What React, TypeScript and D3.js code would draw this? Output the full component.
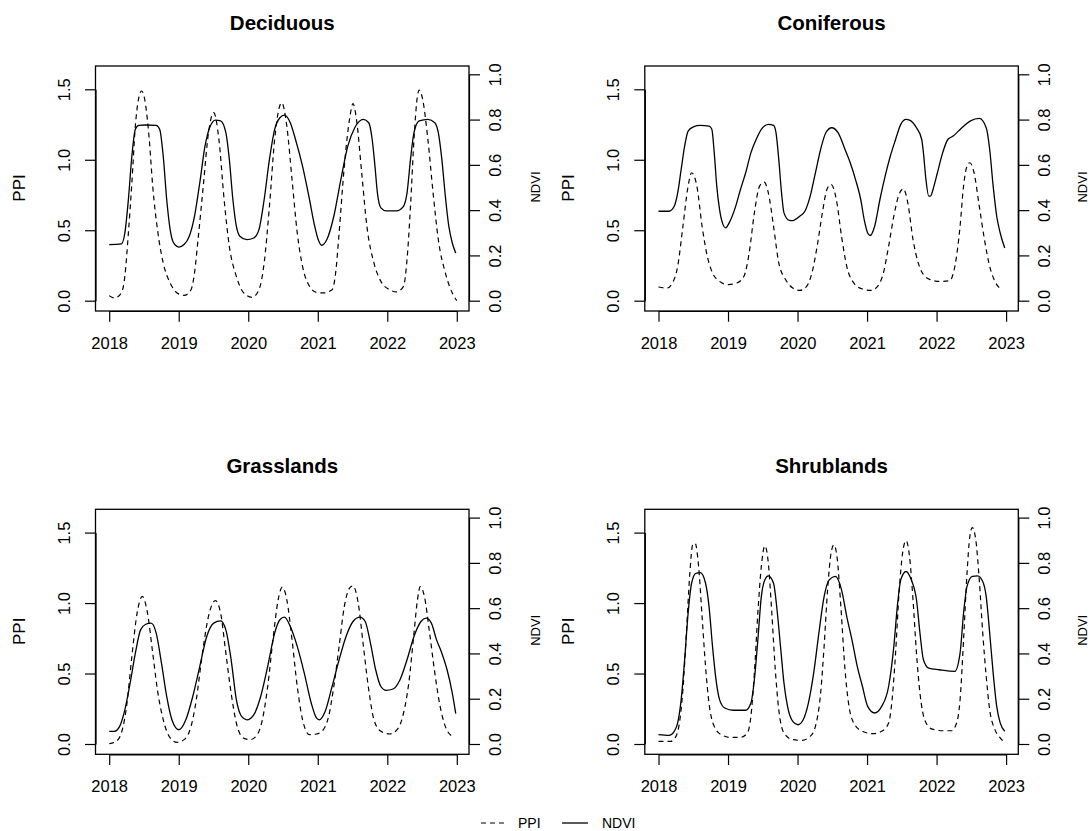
import React, { useEffect, useRef } from "react";
import * as d3 from "d3";

// seasonal PPI / NDVI curves, [decimal year, value]
const deciduousPPI: [number, number][] = [
  [2018.0, 0.036], [2018.075, 0.019], [2018.175, 0.055], [2018.225, 0.173], [2018.276, 0.481],
  [2018.326, 0.836], [2018.376, 1.239], [2018.426, 1.441], [2018.466, 1.488], [2018.526, 1.382],
  [2018.576, 1.145], [2018.626, 0.813], [2018.701, 0.481], [2018.777, 0.268], [2018.877, 0.126],
  [2018.977, 0.055], [2019.077, 0.038], [2019.177, 0.078], [2019.227, 0.197], [2019.278, 0.434],
  [2019.353, 0.813], [2019.428, 1.192], [2019.503, 1.334], [2019.578, 1.145], [2019.653, 0.718],
  [2019.728, 0.386], [2019.829, 0.173], [2019.929, 0.059], [2020.054, 0.024], [2020.154, 0.078],
  [2020.229, 0.268], [2020.305, 0.671], [2020.38, 1.145], [2020.43, 1.334], [2020.48, 1.405],
  [2020.555, 1.239], [2020.63, 0.86], [2020.705, 0.481], [2020.781, 0.244], [2020.881, 0.102],
  [2020.981, 0.059], [2021.081, 0.055], [2021.206, 0.078], [2021.257, 0.197], [2021.307, 0.481],
  [2021.382, 0.955], [2021.457, 1.287], [2021.507, 1.398], [2021.557, 1.287], [2021.632, 0.908],
  [2021.707, 0.528], [2021.808, 0.268], [2021.908, 0.137], [2022.033, 0.078], [2022.133, 0.062],
  [2022.233, 0.102], [2022.284, 0.291], [2022.334, 0.671], [2022.384, 1.145], [2022.434, 1.453],
  [2022.459, 1.495], [2022.509, 1.429], [2022.584, 1.145], [2022.659, 0.765], [2022.734, 0.434],
  [2022.835, 0.197], [2022.935, 0.055], [2023.0, 0.0],
];

const deciduousNDVI: [number, number][] = [
  [2018.0, 0.248], [2018.175, 0.251], [2018.225, 0.299], [2018.276, 0.447], [2018.326, 0.639],
  [2018.376, 0.757], [2018.426, 0.774], [2018.526, 0.776], [2018.676, 0.774], [2018.726, 0.757],
  [2018.777, 0.639], [2018.827, 0.447], [2018.877, 0.314], [2018.927, 0.255], [2019.002, 0.237],
  [2019.077, 0.248], [2019.152, 0.285], [2019.227, 0.373], [2019.303, 0.521], [2019.378, 0.683],
  [2019.453, 0.771], [2019.528, 0.798], [2019.603, 0.794], [2019.678, 0.742], [2019.728, 0.624],
  [2019.779, 0.447], [2019.829, 0.329], [2019.879, 0.285], [2019.979, 0.27], [2020.079, 0.277],
  [2020.154, 0.314], [2020.229, 0.447], [2020.305, 0.624], [2020.38, 0.757], [2020.455, 0.808],
  [2020.52, 0.82], [2020.605, 0.786], [2020.68, 0.712], [2020.781, 0.594], [2020.881, 0.447],
  [2020.956, 0.329], [2021.006, 0.27], [2021.056, 0.245], [2021.131, 0.27], [2021.231, 0.373],
  [2021.332, 0.535], [2021.432, 0.683], [2021.532, 0.764], [2021.657, 0.801], [2021.733, 0.786],
  [2021.783, 0.712], [2021.823, 0.594], [2021.858, 0.476], [2021.908, 0.41], [2021.983, 0.397],
  [2022.133, 0.397], [2022.233, 0.417], [2022.284, 0.476], [2022.334, 0.624], [2022.384, 0.742],
  [2022.459, 0.794], [2022.584, 0.801], [2022.684, 0.786], [2022.734, 0.742], [2022.785, 0.624],
  [2022.835, 0.462], [2022.885, 0.329], [2022.935, 0.255], [2022.985, 0.211],
];

const coniferousPPI: [number, number][] = [
  [2018.0, 0.097], [2018.125, 0.09], [2018.201, 0.126], [2018.276, 0.244], [2018.351, 0.528],
  [2018.426, 0.813], [2018.476, 0.908], [2018.552, 0.813], [2018.627, 0.528], [2018.702, 0.315],
  [2018.777, 0.197], [2018.878, 0.137], [2019.003, 0.114], [2019.128, 0.126], [2019.229, 0.173],
  [2019.304, 0.339], [2019.379, 0.623], [2019.454, 0.813], [2019.52, 0.841], [2019.58, 0.765],
  [2019.655, 0.528], [2019.73, 0.268], [2019.83, 0.149], [2019.931, 0.09], [2020.031, 0.073],
  [2020.131, 0.102], [2020.207, 0.197], [2020.282, 0.386], [2020.357, 0.623], [2020.422, 0.789],
  [2020.482, 0.825], [2020.558, 0.718], [2020.633, 0.457], [2020.708, 0.244], [2020.808, 0.126],
  [2020.934, 0.083], [2021.059, 0.073], [2021.159, 0.107], [2021.235, 0.197], [2021.31, 0.386],
  [2021.385, 0.6], [2021.46, 0.754], [2021.521, 0.794], [2021.586, 0.694], [2021.661, 0.434],
  [2021.736, 0.268], [2021.811, 0.185], [2021.912, 0.149], [2022.037, 0.137], [2022.188, 0.142],
  [2022.263, 0.244], [2022.338, 0.528], [2022.388, 0.813], [2022.438, 0.955], [2022.478, 0.979],
  [2022.539, 0.908], [2022.614, 0.671], [2022.689, 0.434], [2022.764, 0.244], [2022.839, 0.137],
  [2022.94, 0.078],
];

const coniferousNDVI: [number, number][] = [
  [2018.0, 0.395], [2018.15, 0.395], [2018.226, 0.417], [2018.276, 0.476], [2018.326, 0.58],
  [2018.376, 0.683], [2018.426, 0.749], [2018.502, 0.768], [2018.602, 0.774], [2018.727, 0.771],
  [2018.767, 0.757], [2018.802, 0.653], [2018.838, 0.506], [2018.878, 0.403], [2018.928, 0.336],
  [2018.963, 0.322], [2019.028, 0.351], [2019.103, 0.41], [2019.179, 0.491], [2019.254, 0.565],
  [2019.329, 0.653], [2019.404, 0.712], [2019.479, 0.757], [2019.58, 0.779], [2019.655, 0.774],
  [2019.69, 0.742], [2019.73, 0.624], [2019.77, 0.476], [2019.805, 0.388], [2019.881, 0.355],
  [2019.931, 0.354], [2020.031, 0.373], [2020.106, 0.395], [2020.182, 0.462], [2020.257, 0.565],
  [2020.332, 0.668], [2020.407, 0.742], [2020.492, 0.764], [2020.583, 0.742], [2020.683, 0.668],
  [2020.758, 0.609], [2020.834, 0.535], [2020.909, 0.447], [2020.959, 0.358], [2021.009, 0.299],
  [2021.044, 0.288], [2021.109, 0.329], [2021.185, 0.447], [2021.26, 0.55], [2021.335, 0.639],
  [2021.41, 0.712], [2021.485, 0.779], [2021.561, 0.801], [2021.611, 0.798], [2021.711, 0.764],
  [2021.786, 0.712], [2021.811, 0.653], [2021.847, 0.535], [2021.887, 0.462], [2021.912, 0.462],
  [2021.962, 0.506], [2022.012, 0.565], [2022.087, 0.653], [2022.162, 0.712], [2022.238, 0.727],
  [2022.313, 0.749], [2022.388, 0.771], [2022.488, 0.794], [2022.614, 0.805], [2022.714, 0.764],
  [2022.764, 0.668], [2022.814, 0.506], [2022.865, 0.373], [2022.915, 0.299], [2022.98, 0.233],
];

const grasslandsPPI: [number, number][] = [
  [2018.0, 0.002], [2018.1, 0.019], [2018.175, 0.078], [2018.25, 0.267], [2018.326, 0.621],
  [2018.401, 0.928], [2018.476, 1.047], [2018.551, 0.928], [2018.626, 0.645], [2018.701, 0.361],
  [2018.777, 0.173], [2018.877, 0.043], [2018.977, 0.012], [2019.077, 0.031], [2019.177, 0.125],
  [2019.253, 0.314], [2019.328, 0.598], [2019.428, 0.905], [2019.528, 1.018], [2019.603, 0.928],
  [2019.678, 0.645], [2019.754, 0.361], [2019.829, 0.149], [2019.929, 0.043], [2020.029, 0.031],
  [2020.129, 0.066], [2020.204, 0.173], [2020.28, 0.409], [2020.355, 0.739], [2020.43, 1.023],
  [2020.49, 1.113], [2020.555, 1.023], [2020.63, 0.739], [2020.705, 0.409], [2020.781, 0.173],
  [2020.881, 0.066], [2020.981, 0.071], [2021.081, 0.102], [2021.156, 0.196], [2021.231, 0.409],
  [2021.307, 0.692], [2021.382, 0.976], [2021.457, 1.106], [2021.507, 1.122], [2021.582, 0.999],
  [2021.657, 0.692], [2021.733, 0.385], [2021.808, 0.173], [2021.908, 0.09], [2022.033, 0.071],
  [2022.158, 0.113], [2022.234, 0.22], [2022.309, 0.432], [2022.384, 0.787], [2022.434, 1.023],
  [2022.474, 1.117], [2022.534, 1.047], [2022.609, 0.787], [2022.684, 0.503], [2022.76, 0.267],
  [2022.835, 0.125], [2022.935, 0.054],
];

const grasslandsNDVI: [number, number][] = [
  [2018.0, 0.056], [2018.075, 0.056], [2018.15, 0.078], [2018.225, 0.151], [2018.301, 0.269],
  [2018.376, 0.401], [2018.451, 0.504], [2018.526, 0.529], [2018.601, 0.534], [2018.676, 0.49],
  [2018.752, 0.357], [2018.827, 0.21], [2018.902, 0.107], [2019.002, 0.063], [2019.102, 0.107],
  [2019.202, 0.21], [2019.303, 0.343], [2019.403, 0.475], [2019.503, 0.534], [2019.603, 0.544],
  [2019.678, 0.504], [2019.754, 0.372], [2019.829, 0.196], [2019.904, 0.122], [2019.979, 0.107],
  [2020.079, 0.129], [2020.179, 0.21], [2020.28, 0.343], [2020.38, 0.49], [2020.455, 0.549],
  [2020.52, 0.56], [2020.605, 0.519], [2020.705, 0.431], [2020.806, 0.313], [2020.906, 0.181],
  [2020.981, 0.115], [2021.021, 0.107], [2021.106, 0.144], [2021.206, 0.254], [2021.307, 0.372],
  [2021.407, 0.475], [2021.507, 0.541], [2021.607, 0.56], [2021.682, 0.541], [2021.758, 0.446],
  [2021.833, 0.328], [2021.908, 0.254], [2021.983, 0.237], [2022.083, 0.243], [2022.183, 0.284],
  [2022.284, 0.372], [2022.384, 0.475], [2022.484, 0.541], [2022.559, 0.556], [2022.634, 0.534],
  [2022.709, 0.46], [2022.785, 0.401], [2022.86, 0.328], [2022.935, 0.225], [2022.985, 0.134],
];

const shrublandsPPI: [number, number][] = [
  [2018.0, 0.019], [2018.176, 0.019], [2018.251, 0.054], [2018.301, 0.149], [2018.351, 0.385],
  [2018.401, 0.787], [2018.451, 1.212], [2018.491, 1.413], [2018.527, 1.425], [2018.577, 1.259],
  [2018.627, 0.904], [2018.677, 0.548], [2018.727, 0.288], [2018.802, 0.125], [2018.903, 0.066],
  [2019.028, 0.047], [2019.179, 0.047], [2019.279, 0.078], [2019.329, 0.196], [2019.379, 0.503],
  [2019.429, 0.928], [2019.479, 1.259], [2019.53, 1.406], [2019.58, 1.283], [2019.63, 0.928],
  [2019.68, 0.527], [2019.73, 0.243], [2019.805, 0.078], [2019.931, 0.031], [2020.056, 0.026],
  [2020.182, 0.054], [2020.257, 0.125], [2020.332, 0.361], [2020.382, 0.692], [2020.432, 1.094],
  [2020.482, 1.354], [2020.523, 1.413], [2020.573, 1.306], [2020.623, 0.976], [2020.683, 0.527],
  [2020.733, 0.291], [2020.808, 0.149], [2020.934, 0.09], [2021.084, 0.073], [2021.21, 0.09],
  [2021.31, 0.149], [2021.36, 0.314], [2021.41, 0.645], [2021.46, 1.07], [2021.511, 1.354],
  [2021.561, 1.443], [2021.611, 1.33], [2021.661, 1.023], [2021.711, 0.645], [2021.761, 0.361],
  [2021.837, 0.161], [2021.937, 0.106], [2022.087, 0.094], [2022.213, 0.094], [2022.288, 0.149],
  [2022.338, 0.314], [2022.388, 0.739], [2022.438, 1.212], [2022.478, 1.472], [2022.514, 1.536],
  [2022.564, 1.448], [2022.614, 1.165], [2022.664, 0.787], [2022.714, 0.48], [2022.764, 0.243],
  [2022.839, 0.102], [2022.915, 0.043], [2022.99, 0.007],
];

const shrublandsNDVI: [number, number][] = [
  [2018.0, 0.041], [2018.15, 0.038], [2018.226, 0.056], [2018.276, 0.093], [2018.326, 0.196],
  [2018.376, 0.372], [2018.426, 0.578], [2018.476, 0.71], [2018.537, 0.754], [2018.602, 0.757],
  [2018.677, 0.71], [2018.727, 0.607], [2018.777, 0.431], [2018.827, 0.284], [2018.878, 0.196],
  [2018.953, 0.159], [2019.078, 0.149], [2019.254, 0.149], [2019.329, 0.181], [2019.379, 0.284],
  [2019.429, 0.46], [2019.479, 0.651], [2019.53, 0.725], [2019.58, 0.743], [2019.655, 0.71],
  [2019.705, 0.593], [2019.755, 0.431], [2019.805, 0.269], [2019.856, 0.166], [2019.931, 0.1],
  [2020.006, 0.085], [2020.081, 0.107], [2020.156, 0.181], [2020.232, 0.313], [2020.307, 0.49],
  [2020.382, 0.651], [2020.457, 0.725], [2020.543, 0.74], [2020.633, 0.681], [2020.708, 0.563],
  [2020.783, 0.46], [2020.859, 0.343], [2020.934, 0.254], [2021.009, 0.166], [2021.109, 0.137],
  [2021.21, 0.166], [2021.31, 0.254], [2021.385, 0.431], [2021.435, 0.607], [2021.485, 0.725],
  [2021.561, 0.762], [2021.636, 0.725], [2021.711, 0.637], [2021.761, 0.49], [2021.811, 0.372],
  [2021.887, 0.335], [2022.037, 0.328], [2022.263, 0.321], [2022.338, 0.401], [2022.388, 0.578],
  [2022.438, 0.696], [2022.514, 0.74], [2022.589, 0.743], [2022.664, 0.718], [2022.714, 0.651],
  [2022.764, 0.49], [2022.814, 0.313], [2022.865, 0.166], [2022.915, 0.093], [2022.98, 0.056],
];

const panelTitles = ["Deciduous", "Coniferous", "Grasslands", "Shrublands"];
const yearTicks = [2018, 2019, 2020, 2021, 2022, 2023];
const ppiTicks = [0, 0.5, 1.0, 1.5];
const ndviTicks = [0, 0.2, 0.4, 0.6, 0.8, 1.0];

const panels = [
  { title: panelTitles[0], ppi: deciduousPPI, ndvi: deciduousNDVI, col: 0, row: 0 },
  { title: panelTitles[1], ppi: coniferousPPI, ndvi: coniferousNDVI, col: 1, row: 0 },
  { title: panelTitles[2], ppi: grasslandsPPI, ndvi: grasslandsNDVI, col: 0, row: 1 },
  { title: panelTitles[3], ppi: shrublandsPPI, ndvi: shrublandsNDVI, col: 1, row: 1 },
];

const FONT = "'Liberation Sans', Arial, Helvetica, sans-serif";

const App = () => {
  const ref = useRef<SVGSVGElement>(null);

  useEffect(() => {
    const width = 1091;
    const height = 831;
    const svg = d3.select(ref.current).attr("width", width).attr("height", height);
    svg.selectAll("*").remove();
    svg.append("rect").attr("width", width).attr("height", height).attr("fill", "#fff");

    const colOffset = 549.3;
    const rowOffset = 443.3;
    const box = { left: 95.5, right: 469, top: 66, bottom: 311 };

    const x = d3.scaleLinear().domain([2018, 2023]).range([109.2, 456.8]);
    const yPPI = d3.scaleLinear().domain([0, 1.5]).range([300.7, 89.3]);
    const yNDVI = d3.scaleLinear().domain([0, 1]).range([300.7, 74.3]);

    panels.forEach((p) => {
      const g = svg
        .append("g")
        .attr("transform", `translate(${p.col * colOffset},${p.row * rowOffset})`)
        .style("font-family", FONT);

      // curves
      const ppiLine = d3
        .line<[number, number]>()
        .x((d) => x(d[0]))
        .y((d) => yPPI(d[1]))
        .curve(d3.curveMonotoneX);
      const ndviLine = d3
        .line<[number, number]>()
        .x((d) => x(d[0]))
        .y((d) => yNDVI(d[1]))
        .curve(d3.curveMonotoneX);

      g.append("path")
        .attr("d", ppiLine(p.ppi))
        .attr("fill", "none")
        .attr("stroke", "#000")
        .attr("stroke-width", 1.2)
        .attr("stroke-dasharray", "5,4");
      g.append("path")
        .attr("d", ndviLine(p.ndvi))
        .attr("fill", "none")
        .attr("stroke", "#000")
        .attr("stroke-width", 1.3);

      // box
      g.append("rect")
        .attr("x", box.left)
        .attr("y", box.top)
        .attr("width", box.right - box.left)
        .attr("height", box.bottom - box.top)
        .attr("fill", "none")
        .attr("stroke", "#000")
        .attr("stroke-width", 1.3);

      // bottom axis
      const xAxis = g
        .append("g")
        .attr("transform", `translate(0,${box.bottom})`)
        .call(d3.axisBottom(x).tickValues(yearTicks).tickSize(10.7).tickSizeOuter(0).tickFormat(d3.format("d")));
      xAxis.selectAll("text").attr("y", 38).attr("dy", null);

      // left axis
      const lAxis = g
        .append("g")
        .attr("transform", `translate(${box.left},0)`)
        .call(d3.axisLeft(yPPI).tickValues(ppiTicks).tickSize(10.5).tickSizeOuter(0).tickFormat(d3.format(".1f")));
      lAxis
        .selectAll("text")
        .attr("x", null)
        .attr("dy", null)
        .attr("text-anchor", "middle")
        .attr("transform", "translate(-26,0) rotate(-90)");

      // right axis
      const rAxis = g
        .append("g")
        .attr("transform", `translate(${box.right},0)`)
        .call(d3.axisRight(yNDVI).tickValues(ndviTicks).tickSize(11).tickSizeOuter(0).tickFormat(d3.format(".1f")));
      rAxis
        .selectAll("text")
        .attr("x", null)
        .attr("dy", null)
        .attr("text-anchor", "middle")
        .attr("transform", "translate(31.7,0) rotate(-90)");

      [xAxis, lAxis, rAxis].forEach((a) => {
        a.attr("font-family", FONT).attr("font-size", 16.5).attr("color", "#000");
        a.selectAll("line, path").attr("stroke-width", 1.2);
      });

      // title
      g.append("text")
        .attr("x", (box.left + box.right) / 2)
        .attr("y", 30)
        .attr("text-anchor", "middle")
        .attr("font-weight", "bold")
        .attr("font-size", 20.5)
        .text(p.title);

      // axis titles
      g.append("text")
        .attr("transform", `translate(${box.left - 70.5},188) rotate(-90)`)
        .attr("text-anchor", "middle")
        .attr("font-size", 17)
        .text("PPI");
      const ndviOffset = p.col === 0 ? 71.3 : 68.8;
      g.append("text")
        .attr("transform", `translate(${box.right + ndviOffset},187) rotate(-90)`)
        .attr("text-anchor", "middle")
        .attr("font-size", 13)
        .text("NDVI");
    });

    // legend
    const leg = svg.append("g").style("font-family", FONT).attr("font-size", 14);
    leg.append("line")
      .attr("x1", 481).attr("x2", 506).attr("y1", 823).attr("y2", 823)
      .attr("stroke", "#000").attr("stroke-width", 1.2).attr("stroke-dasharray", "5,4");
    leg.append("text").attr("x", 518).attr("y", 828).text("PPI");
    leg.append("line")
      .attr("x1", 562).attr("x2", 588).attr("y1", 823).attr("y2", 823)
      .attr("stroke", "#000").attr("stroke-width", 1.3);
    leg.append("text").attr("x", 602).attr("y", 828).text("NDVI");
  }, []);

  return (
    <div>
      <svg ref={ref} style={{ position: "absolute", left: 0, top: 0 }}></svg>
    </div>
  );
};

export default App;
